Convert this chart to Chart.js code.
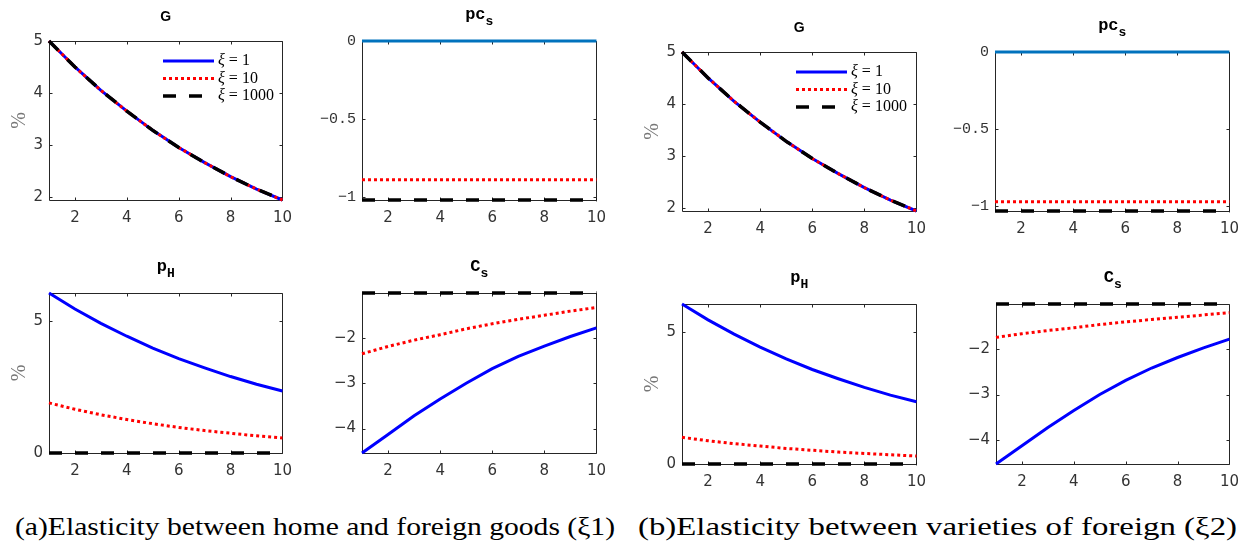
<!DOCTYPE html>
<html><head><meta charset="utf-8">
<script src="https://cdn.jsdelivr.net/npm/chart.js@4.4.0/dist/chart.umd.min.js"></script>
<style>
body{margin:0;background:#fff;width:1256px;height:545px;overflow:hidden;position:relative;}
canvas{position:absolute;}
.cap{position:absolute;white-space:nowrap;font-family:"Liberation Serif",serif;font-size:25px;line-height:25px;color:#000;transform-origin:0 0;}
</style></head><body>
<div id="root"></div>
<div class="cap" id="capA">(a)Elasticity between home and foreign goods (ξ1)</div>
<div class="cap" id="capB">(b)Elasticity between varieties of foreign (ξ2)</div>
<script>
// ---------- data ----------
const periods = [1,2,3,4,5,6,7,8,9,10];
const xTicks = [2,4,6,8,10];
const seriesLabels = ['ξ = 1','ξ = 10','ξ = 1000'];
const yLabel = '%';
const gTicks = [2,3,4,5];
const pcTicks = [-1,-0.5,0];
const pHTicks = [0,5];
const csTicks = [-4,-3,-2];

// (a) Elasticity between home and foreign goods
const a_G_xi1    = [5.00,4.50,4.05,3.65,3.28,2.95,2.66,2.39,2.15,1.94];
const a_G_xi10   = [5.00,4.50,4.05,3.65,3.28,2.95,2.66,2.39,2.15,1.94];
const a_G_xi1000 = [5.00,4.50,4.05,3.65,3.28,2.95,2.66,2.39,2.15,1.94];
const a_pc_xi1    = [0,0,0,0,0,0,0,0,0,0];
const a_pc_xi10   = [-0.89,-0.89,-0.89,-0.89,-0.89,-0.89,-0.89,-0.89,-0.89,-0.89];
const a_pc_xi1000 = [-1.02,-1.02,-1.02,-1.02,-1.02,-1.02,-1.02,-1.02,-1.02,-1.02];
const a_pH_xi1    = [6.07,5.46,4.92,4.43,3.98,3.58,3.23,2.90,2.61,2.35];
const a_pH_xi10   = [1.90,1.66,1.45,1.27,1.11,0.97,0.85,0.75,0.65,0.57];
const a_pH_xi1000 = [0,0,0,0,0,0,0,0,0,0];
const a_Cs_xi1    = [-4.54,-4.13,-3.72,-3.35,-3.00,-2.68,-2.41,-2.18,-1.97,-1.78];
const a_Cs_xi10   = [-2.35,-2.19,-2.05,-1.93,-1.80,-1.69,-1.59,-1.50,-1.41,-1.33];
const a_Cs_xi1000 = [-1.01,-1.01,-1.01,-1.01,-1.01,-1.01,-1.01,-1.01,-1.01,-1.01];

// (b) Elasticity between varieties of foreign
const b_G_xi1    = [5.00,4.50,4.05,3.65,3.28,2.95,2.66,2.39,2.15,1.94];
const b_G_xi10   = [5.00,4.50,4.05,3.65,3.28,2.95,2.66,2.39,2.15,1.94];
const b_G_xi1000 = [5.00,4.50,4.05,3.65,3.28,2.95,2.66,2.39,2.15,1.94];
const b_pc_xi1    = [0,0,0,0,0,0,0,0,0,0];
const b_pc_xi10   = [-0.97,-0.97,-0.97,-0.97,-0.97,-0.97,-0.97,-0.97,-0.97,-0.97];
const b_pc_xi1000 = [-1.03,-1.03,-1.03,-1.03,-1.03,-1.03,-1.03,-1.03,-1.03,-1.03];
const b_pH_xi1    = [6.06,5.46,4.92,4.43,3.98,3.58,3.23,2.90,2.61,2.36];
const b_pH_xi10   = [1.01,0.88,0.77,0.68,0.59,0.52,0.45,0.40,0.35,0.30];
const b_pH_xi1000 = [0,0,0,0,0,0,0,0,0,0];
const b_Cs_xi1    = [-4.52,-4.12,-3.72,-3.35,-3.00,-2.69,-2.42,-2.19,-1.98,-1.79];
const b_Cs_xi10   = [-1.75,-1.67,-1.60,-1.54,-1.47,-1.41,-1.36,-1.31,-1.26,-1.21];
const b_Cs_xi1000 = [-1.02,-1.02,-1.02,-1.02,-1.02,-1.02,-1.02,-1.02,-1.02,-1.02];

// ---------- layout / style ----------
const SANS_T = {main:'bold 14px "Liberation Sans"', sub:'bold 11px "Liberation Sans"', off:20};
const MONO_T = {main:'bold 17px "Liberation Mono"', sub:'bold 13px "Liberation Mono"', off:22};
const panels = [
  {box:[49,41,286,200],  title:'G',  sub:'',  tf:SANS_T, series:[a_G_xi1,a_G_xi10,a_G_xi1000],   ticks:gTicks,  ylabel:true, legend:true, c1:'#0000ff'},
  {box:[362,41,600,200], title:'pc', sub:'s', tf:MONO_T, series:[a_pc_xi1,a_pc_xi10,a_pc_xi1000], ticks:pcTicks, mono:true, c1:'#0072bd'},
  {box:[49,293,286,453], title:'p',  sub:'H', tf:MONO_T, series:[a_pH_xi1,a_pH_xi10,a_pH_xi1000], ticks:pHTicks, ylabel:true, c1:'#0000ff'},
  {box:[362,293,600,453],title:'C',  sub:'s', tf:MONO_T, series:[a_Cs_xi1,a_Cs_xi10,a_Cs_xi1000], ticks:csTicks, c1:'#0000ff'},
  {box:[682,52,920,211], title:'G',  sub:'',  tf:SANS_T, series:[b_G_xi1,b_G_xi10,b_G_xi1000],   ticks:gTicks,  ylabel:true, legend:true, c1:'#0000ff'},
  {box:[995,52,1233,211],title:'pc', sub:'s', tf:MONO_T, series:[b_pc_xi1,b_pc_xi10,b_pc_xi1000], ticks:pcTicks, mono:true, c1:'#0072bd'},
  {box:[682,304,920,464],title:'p',  sub:'H', tf:MONO_T, series:[b_pH_xi1,b_pH_xi10,b_pH_xi1000], ticks:pHTicks, ylabel:true, c1:'#0000ff'},
  {box:[996,304,1233,464],title:'C', sub:'s', tf:MONO_T, series:[b_Cs_xi1,b_Cs_xi10,b_Cs_xi1000], ticks:csTicks, c1:'#0000ff'}
];

const boxPlugin = {
  id:'axbox',
  beforeDatasetsDraw(chart){
    const {ctx, chartArea:a, scales:{x,y}} = chart;
    const l=Math.round(a.left)+0.5, t=Math.round(a.top)+0.5, r=Math.round(a.right)+0.5, b=Math.round(a.bottom)+0.5;
    ctx.save(); ctx.strokeStyle='#262626'; ctx.lineWidth=1;
    ctx.beginPath(); ctx.rect(l,t,r-l,b-t);
    x.ticks.forEach(tk=>{const p=Math.round(x.getPixelForValue(tk.value))+0.5; ctx.moveTo(p,b); ctx.lineTo(p,b-3); ctx.moveTo(p,t); ctx.lineTo(p,t+3);});
    y.ticks.forEach(tk=>{const p=Math.round(y.getPixelForValue(tk.value))+0.5; ctx.moveTo(l,p); ctx.lineTo(l+3,p); ctx.moveTo(r,p); ctx.lineTo(r-3,p);});
    ctx.stroke(); ctx.restore();
  }
};
const titlePlugin = {
  id:'panelTitle',
  afterDraw(chart, args, o){
    const {ctx, chartArea:a} = chart;
    ctx.save(); ctx.fillStyle='#000'; ctx.textBaseline='alphabetic'; ctx.textAlign='left';
    ctx.font=o.tf.main; const w1=ctx.measureText(o.text).width;
    ctx.font=o.tf.sub; const w2=o.sub?ctx.measureText(o.sub).width:0;
    const cx=(a.left+a.right)/2, x0=cx-(w1+w2)/2, base=a.top-o.tf.off;
    ctx.font=o.tf.main; ctx.fillText(o.text,x0,base);
    if(o.sub){ctx.font=o.tf.sub; ctx.fillText(o.sub,x0+w1,base+6);}
    ctx.restore();
  }
};
const legendPlugin = {
  id:'xiLegend',
  afterDatasetsDraw(chart, args, o){
    if(!o.display) return;
    const {ctx, chartArea:a} = chart;
    chart.data.datasets.forEach((ds,i)=>{
      const y=a.top+20+i*17.5;
      ctx.save();
      ctx.strokeStyle=ds.borderColor; ctx.lineWidth=ds.borderWidth; ctx.setLineDash(ds.borderDash||[]);
      ctx.beginPath(); ctx.moveTo(a.left+114,y); ctx.lineTo(a.left+165,y); ctx.stroke();
      ctx.setLineDash([]); ctx.fillStyle='#000'; ctx.textBaseline='middle'; ctx.textAlign='left';
      ctx.font='italic 16px "Liberation Serif"'; ctx.fillText(ds.label[0],a.left+169,y);
      const w=ctx.measureText(ds.label[0]).width;
      ctx.font='16px "Liberation Serif"'; ctx.fillText(ds.label.slice(1),a.left+169+w,y);
      ctx.restore();
    });
  }
};

const fmt = v => String(v).replace('-','\u2212');
const root = document.getElementById('root');
const L=45, T=40, R=15, B=32;

panels.forEach(def=>{
  const [x0,y0,x1,y1]=def.box;
  const w=x1-x0+L+R, h=y1-y0+T+B;
  const c=document.createElement('canvas');
  c.width=w; c.height=h; c.style.left=(x0-L)+'px'; c.style.top=(y0-T)+'px';
  c.style.width=w+'px'; c.style.height=h+'px';
  root.appendChild(c);
  const all=def.series.flat();
  const ymin=Math.min(...all), ymax=Math.max(...all);
  const toXY=arr=>periods.map((p,i)=>({x:p,y:arr[i]}));
  new Chart(c,{
    type:'line',
    data:{datasets:[
      {label:seriesLabels[0],data:toXY(def.series[0]),borderColor:def.c1,borderWidth:3,order:2,clip:6},
      {label:seriesLabels[1],data:toXY(def.series[1]),borderColor:'#ff0000',borderWidth:3,borderDash:[3,3],order:1,clip:6},
      {label:seriesLabels[2],data:toXY(def.series[2]),borderColor:'#000000',borderWidth:3.5,borderDash:[13,13],order:0,clip:6}
    ]},
    plugins:[boxPlugin,titlePlugin,legendPlugin],
    options:{
      responsive:false, animation:false, devicePixelRatio:1,
      layout:{padding:{left:0,top:T,right:R,bottom:0}},
      elements:{point:{radius:0},line:{tension:0}},
      plugins:{legend:{display:false},tooltip:{enabled:false},title:{display:false},
        panelTitle:{text:def.title,sub:def.sub,tf:def.tf},
        xiLegend:{display:!!def.legend}},
      scales:{
        x:{type:'linear',min:1,max:10,
          grid:{display:false,drawTicks:false},border:{display:false},
          afterBuildTicks:s=>{s.ticks=xTicks.map(v=>({value:v}));},
          afterFit:s=>{s.height=B;},
          ticks:{padding:9,autoSkip:false,maxRotation:0,color:'#333',font:{family:'DejaVu Sans',size:15},callback:v=>fmt(v)}},
        y:{type:'linear',min:ymin,max:ymax,
          grid:{display:false,drawTicks:false},border:{display:false},
          afterBuildTicks:s=>{s.ticks=def.ticks.map(v=>({value:v}));},
          afterFit:s=>{s.width=L;},
          ticks:{padding:6,autoSkip:false,color:'#333',
            font:def.mono?{family:'Liberation Mono',size:15}:{family:'DejaVu Sans',size:15},callback:v=>fmt(v)},
          title:{display:!!def.ylabel,text:yLabel,color:'#777',font:{family:'Liberation Serif',size:20},padding:{top:4,bottom:0}}}
      }
    }
  });
});

function fitCap(id,x0,x1,top){
  const el=document.getElementById(id);
  el.style.left=x0+'px'; el.style.top=top+'px';
  const w=el.getBoundingClientRect().width;
  el.style.transform='scaleX('+((x1-x0)/w)+')';
}
fitCap('capA',15,615,514);
fitCap('capB',638,1237,514);
</script>
</body></html>
